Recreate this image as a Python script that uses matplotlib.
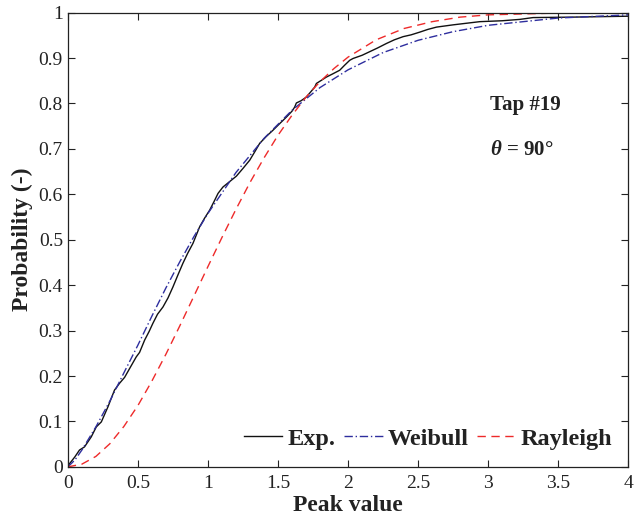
import matplotlib
matplotlib.use('Agg')
import matplotlib.pyplot as plt

# Values
exp_x = [0, 0.012, 0.05, 0.083, 0.119, 0.167, 0.203, 0.239, 0.286, 0.333, 0.369, 0.405, 0.44,
         0.488, 0.512, 0.548, 0.58, 0.607, 0.64, 0.679, 0.715, 0.750, 0.785, 0.821, 0.855,
         0.893, 0.940, 0.975, 1.012, 1.045, 1.072, 1.107, 1.155, 1.203, 1.25, 1.298, 1.335,
         1.369, 1.415, 1.464, 1.51, 1.560, 1.60, 1.619, 1.631, 1.665, 1.702, 1.735, 1.762,
         1.774, 1.81, 1.845, 1.89, 1.940, 1.975, 2.012, 2.036, 2.10, 2.155, 2.21, 2.274, 2.33,
         2.393, 2.45, 2.512, 2.57, 2.631, 2.75, 2.94, 3.10, 3.226, 3.32, 3.6, 3.8, 4.0]
exp_y = [0, 0.007, 0.022, 0.037, 0.044, 0.066, 0.088, 0.099, 0.132, 0.169, 0.184, 0.197, 0.216,
         0.242, 0.252, 0.279, 0.298, 0.316, 0.336, 0.352, 0.372, 0.396, 0.422, 0.448, 0.470,
         0.492, 0.528, 0.547, 0.565, 0.585, 0.602, 0.616, 0.628, 0.640, 0.657, 0.675, 0.694,
         0.712, 0.727, 0.741, 0.755, 0.770, 0.783, 0.792, 0.801, 0.806, 0.814, 0.826, 0.836,
         0.844, 0.851, 0.858, 0.865, 0.873, 0.884, 0.895, 0.899, 0.906, 0.914, 0.922, 0.932,
         0.940, 0.947, 0.951, 0.957, 0.963, 0.968, 0.973, 0.980, 0.982, 0.985, 0.989, 0.990,
         0.991, 0.992]

weibull_x = [0, 0.05, 0.1, 0.2, 0.3, 0.4, 0.5, 0.6, 0.7, 0.8, 0.9, 1.0, 1.2, 1.4, 1.6, 1.8,
             2.0, 2.25, 2.5, 2.75, 3.0, 3.5, 4.0]
weibull_y = [0, 0.015, 0.037, 0.088, 0.145, 0.207, 0.268, 0.332, 0.394, 0.452, 0.507, 0.558,
             0.648, 0.723, 0.785, 0.835, 0.874, 0.912, 0.939, 0.958, 0.972, 0.988, 0.995]

rayleigh_x = [0, 0.1, 0.2, 0.3, 0.4, 0.5, 0.6, 0.7, 0.8, 0.9, 1.0, 1.1, 1.2, 1.3, 1.4, 1.5,
              1.6, 1.7, 1.8, 1.9, 2.0, 2.2, 2.4, 2.6, 2.8, 3.0, 3.5, 4.0]
rayleigh_y = [0, 0.006, 0.023, 0.051, 0.089, 0.135, 0.189, 0.248, 0.311, 0.376, 0.441, 0.505,
              0.567, 0.626, 0.680, 0.730, 0.774, 0.814, 0.848, 0.877, 0.902, 0.940, 0.965,
              0.980, 0.990, 0.995, 0.999, 1.0]

x_ticks = [0, 0.5, 1, 1.5, 2, 2.5, 3, 3.5, 4]
x_tick_labels = ['0', '0.5', '1', '1.5', '2', '2.5', '3', '3.5', '4']
y_ticks = [0, 0.1, 0.2, 0.3, 0.4, 0.5, 0.6, 0.7, 0.8, 0.9, 1]
y_tick_labels = ['0', '0.1', '0.2', '0.3', '0.4', '0.5', '0.6', '0.7', '0.8', '0.9', '1']

plt.rcParams['font.family'] = ['Liberation Serif', 'DejaVu Serif']
plt.rcParams['mathtext.fontset'] = 'custom'
plt.rcParams['mathtext.it'] = 'Liberation Serif:italic:bold'
plt.rcParams['mathtext.bf'] = 'Liberation Serif:bold'

fig = plt.figure(figsize=(6.34, 5.24), dpi=100)
ax = fig.add_axes([0.107, 0.109, 0.884, 0.867])

ax.plot(exp_x, exp_y, color='#111111', lw=1.0, label='Exp.')
ax.plot(weibull_x, weibull_y, color='#2e2e9e', lw=1.0, linestyle='-.', dashes=(6, 2, 1, 2),
        label='Weibull')
ax.plot(rayleigh_x, rayleigh_y, color='#ee2a2a', lw=1.0, linestyle='--', dashes=(6, 4),
        label='Rayleigh')

ax.set_xlim(0, 4)
ax.set_ylim(0, 1)
ax.set_xticks(x_ticks)
ax.set_xticklabels(x_tick_labels)
ax.set_yticks(y_ticks)
ax.set_yticklabels(y_tick_labels)
ax.tick_params(direction='in', top=True, right=True, length=5, width=0.8, labelsize=14,
               colors='#222222')
ax.tick_params(axis='x', pad=6)
for sp in ax.spines.values():
    sp.set_linewidth(0.9)
    sp.set_color('#222222')

ax.set_xlabel('Peak value', fontsize=17, fontweight='bold', labelpad=2, color='#222222')
ax.set_ylabel('Probability (-)', fontsize=17, fontweight='bold', labelpad=4, color='#222222')

ax.text(3.015, 0.797, 'Tap #19', fontsize=15, fontweight='bold', color='#222222', va='center')
ax.text(3.015, 0.697, r'$\theta$ = 90°', fontsize=15, fontweight='bold', color='#222222',
        va='center')

leg = ax.legend(loc='lower right', ncol=3, frameon=False,
                prop={'weight': 'bold', 'size': 17.5}, handlelength=1.6, handletextpad=0.2,
                columnspacing=0.35, borderaxespad=0.3, bbox_to_anchor=(1.002, 0.0))
for t in leg.get_texts():
    t.set_color('#222222')

fig.savefig('out.png', dpi=100)
